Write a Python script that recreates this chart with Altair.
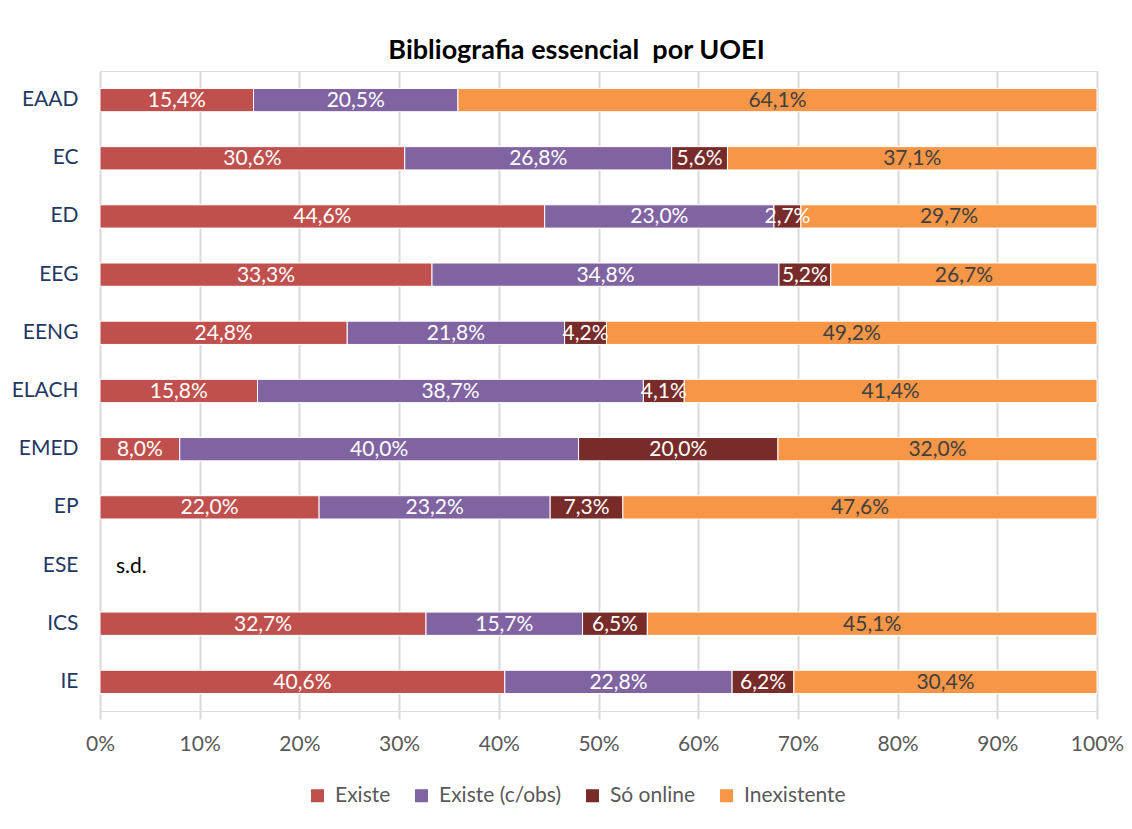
import altair as alt
import pandas as pd

categories = ["EAAD", "EC", "ED", "EEG", "EENG", "ELACH", "EMED", "EP", "ESE", "ICS", "IE"]
series = ["Existe", "Existe (c/obs)", "Só online", "Inexistente"]
existe = [15.4, 30.6, 44.6, 33.3, 24.8, 15.8, 8.0, 22.0, None, 32.7, 40.6]
existe_obs = [20.5, 26.8, 23.0, 34.8, 21.8, 38.7, 40.0, 23.2, None, 15.7, 22.8]
so_online = [None, 5.6, 2.7, 5.2, 4.2, 4.1, 20.0, 7.3, None, 6.5, 6.2]
inexistente = [64.1, 37.1, 29.7, 26.7, 49.2, 41.4, 32.0, 47.6, None, 45.1, 30.4]
colors = ["#C0504D", "#8064A2", "#772C2A", "#F79646"]
missing_label = "s.d."
title_text = "Bibliografia essencial\u00a0\u00a0por UOEI"

rows = []
for i, c in enumerate(categories):
    for k, (s, vals) in enumerate(zip(series, [existe, existe_obs, so_online, inexistente])):
        v = vals[i]
        if v is None:
            continue
        rows.append({"cat": c, "serie": s, "ord": k, "v": v,
                     "lbl": f"{v:.1f}".replace(".", ",") + "%",
                     "dark": s == "Inexistente"})
df = pd.DataFrame(rows)
sd = pd.DataFrame({"cat": [c for i, c in enumerate(categories) if existe[i] is None],
                   "lbl": missing_label, "x": 0.0})

FONT = "Lato"

y_enc = alt.Y("cat:N", sort=categories, title=None,
              scale=alt.Scale(paddingInner=0.6, paddingOuter=0.3),
              axis=alt.Axis(labelFontSize=21, labelColor="#1F3864", labelFont=FONT,
                            labelPadding=22, ticks=False, domain=False))

base = alt.Chart(df).transform_stack(
    stack="v", groupby=["cat"], sort=[alt.SortField("ord", order="ascending")],
    as_=["x0", "x1"], offset="normalize"
).transform_calculate(xm="(datum.x0 + datum.x1) / 2")

bars = base.mark_bar(stroke="white", strokeWidth=1).encode(
    x=alt.X("x0:Q", title=None,
            scale=alt.Scale(domain=[0, 1], nice=False),
            axis=alt.Axis(format=".0%", values=[i / 10 for i in range(11)],
                          labelFontSize=21, labelColor="#595959", labelFont=FONT,
                          labelPadding=14, labelFlush=False, labelBound=False,
                          grid=True, gridColor="#D9D9D9", gridWidth=2,
                          tickColor="#D9D9D9", tickWidth=2, tickSize=8, domain=False)),
    x2="x1:Q",
    y=y_enc,
    color=alt.Color("serie:N", sort=series,
                    scale=alt.Scale(domain=series, range=colors),
                    legend=alt.Legend(title=None, orient="none", direction="horizontal",
                                      legendX=207, legendY=714,
                                      labelFontSize=21, labelColor="#595959", labelFont=FONT,
                                      symbolType="square", symbolSize=170,
                                      symbolStrokeWidth=0, columnPadding=20, labelOffset=7)),
)

labels = base.mark_text(fontSize=21, font=FONT, baseline="middle", dy=1).encode(
    x="xm:Q",
    y=alt.Y("cat:N", sort=categories),
    text="lbl:N",
    color=alt.condition("datum.dark", alt.value("#404040"), alt.value("white")),
)

sd_text = alt.Chart(sd).mark_text(fontSize=21, font=FONT, align="left", dx=16,
                                  baseline="middle", color="black", dy=1).encode(
    x="x:Q", y=alt.Y("cat:N", sort=categories), text="lbl:N")

chart = alt.layer(bars, labels, sd_text).properties(
    width=997, height=640,
    padding={"left": 92, "top": 63, "right": 27, "bottom": 100},
    autosize=alt.AutoSizeParams(type="none"),
    title=alt.TitleParams(title_text, fontSize=27, font=FONT,
                          fontWeight="bold", color="black", anchor="middle",
                          dx=-22, offset=6),
).configure_view(stroke=None).configure(background="white")

chart.save("out.html", embed_options={"renderer": "svg", "actions": False})
